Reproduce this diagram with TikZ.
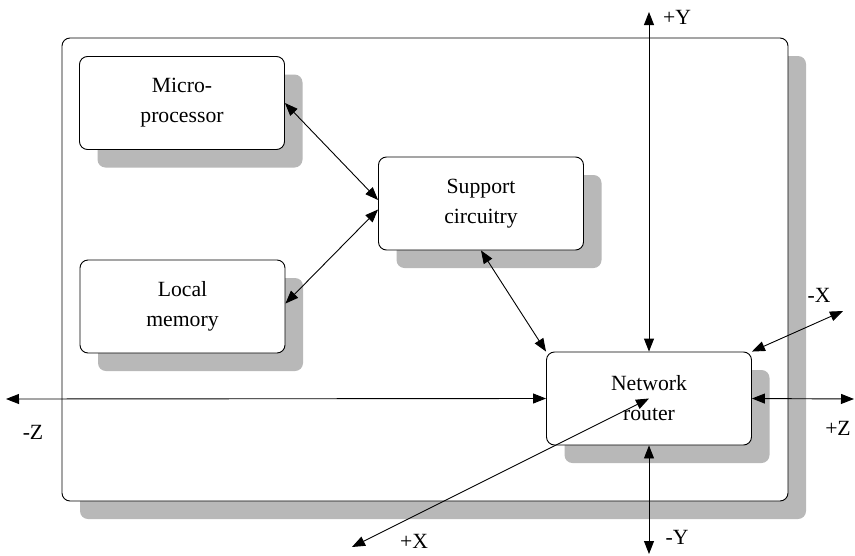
\documentclass[tikz,border=0pt]{standalone}
\usepackage{fontspec}
\setmainfont{Liberation Serif}
\usetikzlibrary{arrows.meta,shadows}
\begin{document}
\begin{tikzpicture}[x=1pt,y=-1pt,
  box/.style={draw, line width=0.9pt, rounded corners=8pt, fill=white, align=center,
    font=\fontsize{21.7}{30}\selectfont, inner sep=0pt,
    minimum width=205pt, minimum height=93pt,
    drop shadow={shadow xshift=18pt, shadow yshift=-18pt, fill=black!28, opacity=1}},
  lbl/.style={font=\fontsize{21.7}{26}\selectfont, inner sep=0pt},
  link/.style={<->, line width=0.9pt, >={Triangle[length=13pt,width=10pt]}},
]
\useasboundingbox (0,0) rectangle (855,555);
\node[box, minimum width=726pt, minimum height=463pt] (outer) at (425,269.5) {};
\node[box] (mp) at (182,103) {Micro-\\processor};
\node[box] (lm) at (182.5,306.5) {Local\\memory};
\node[box] (sc) at (481,203.5) {Support\\circuitry};
\node[box] (nr) at (649,398.5) {Network\\router};

\coordinate (yp) at (649,12);
\coordinate (ym) at (649,554);
\coordinate (zm) at (6,399);
\coordinate (zp) at (854,399);
\coordinate (xm) at (843,311);
\coordinate (xp) at (352,547);

\draw[link] (mp.east) -- ([yshift=3.5pt]sc.west);
\draw[link] ([yshift=3pt]lm.east) -- ([yshift=-6pt]sc.west);
\draw[link] (sc.south) -- (nr.north west);
\draw[link] (yp) -- (nr.north);
\draw[link] (nr.south) -- (ym);
\draw[link] (zm) -- (nr.west);
\draw[link] (nr.east) -- (zp);
\draw[link] (nr.north east) -- (xm);
\draw[link] (xp) -- (nr.center);

\node[lbl] (lyp) at (677,17) {+Y};
\node[lbl] (lym) at (677,537) {-Y};
\node[lbl] (lzm) at (33,432) {-Z};
\node[lbl] (lzp) at (838,428) {+Z};
\node[lbl] (lxm) at (819,295) {-X};
\node[lbl] (lxp) at (414,541) {+X};
\end{tikzpicture}
\end{document}
